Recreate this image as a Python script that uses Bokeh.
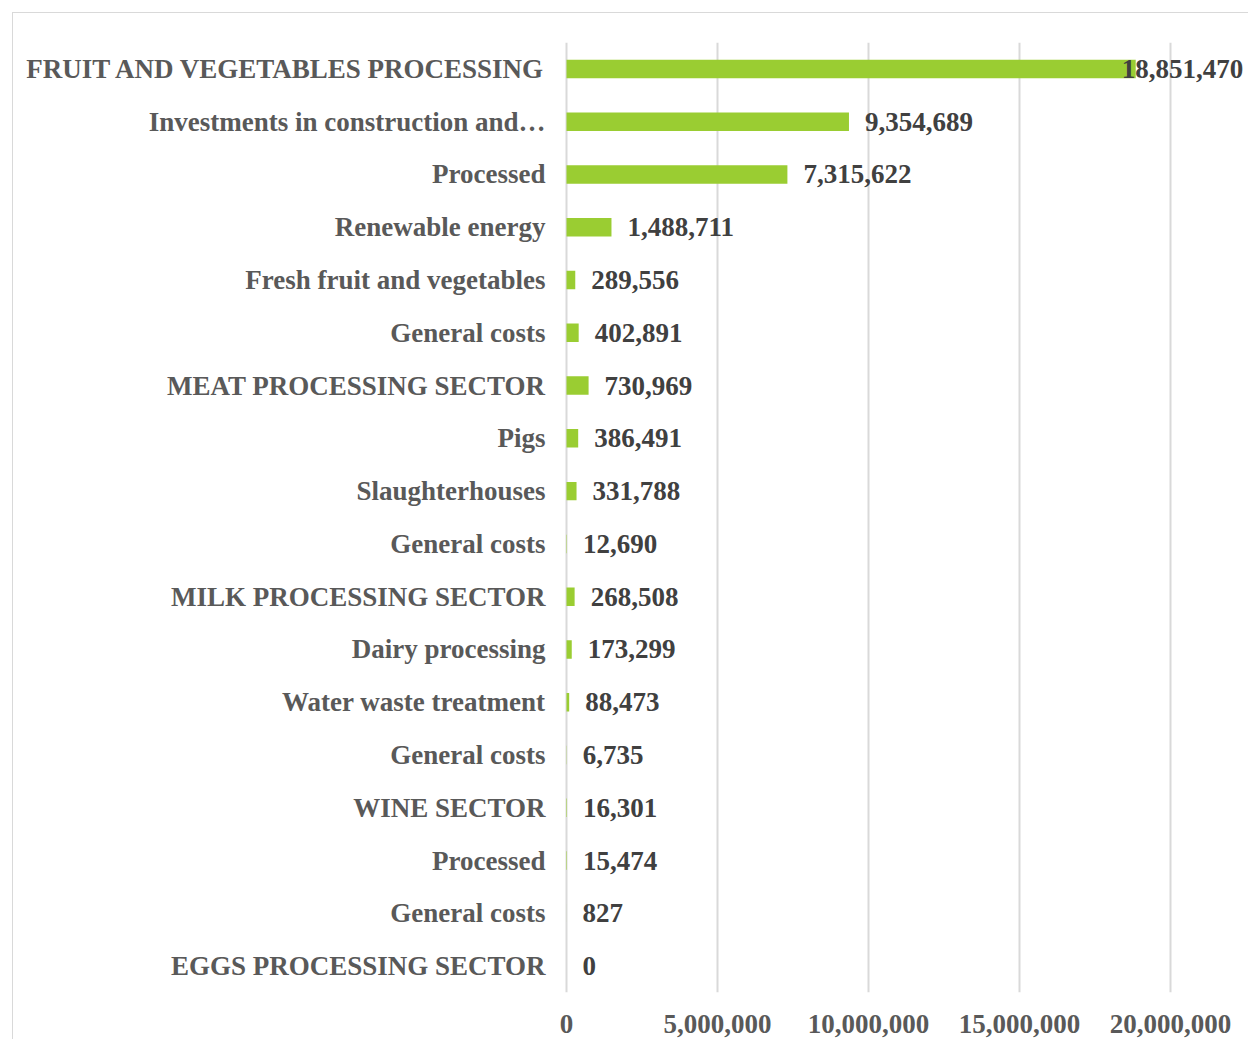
from bokeh.plotting import figure
from bokeh.models import ColumnDataSource, Range1d, FixedTicker, NumeralTickFormatter
from bokeh.core.properties import value
from bokeh.embed import file_html
from bokeh.resources import INLINE

categories = [
    "FRUIT AND VEGETABLES PROCESSING",
    "Investments in construction and\u2026",
    "Processed",
    "Renewable energy",
    "Fresh fruit and vegetables",
    "General costs",
    "MEAT PROCESSING SECTOR",
    "Pigs",
    "Slaughterhouses",
    "General costs",
    "MILK PROCESSING SECTOR",
    "Dairy processing",
    "Water waste treatment",
    "General costs",
    "WINE SECTOR",
    "Processed",
    "General costs",
    "EGGS PROCESSING SECTOR",
]
values = [18851470, 9354689, 7315622, 1488711, 289556, 402891, 730969, 386491,
          331788, 12690, 268508, 173299, 88473, 6735, 16301, 15474, 827, 0]
x_ticks = [0, 5000000, 10000000, 15000000, 20000000]

FONT = "Liberation Serif"
BAR = "#9ACD32"
LABEL = "#595959"
VALUE = "#404040"
GRID = "#d9d9d9"

n = len(categories)
ys = [n - i for i in range(n)]
x_min = -0.1e6
x_max = 22.62e6
offsets = [-14 if v > 0.8 * x_max else 16 for v in values]

src = ColumnDataSource(dict(
    y=ys, v=values, lab=[f"{v:,}" for v in values], off=offsets,
))

p = figure(width=1236, height=1027, output_backend="svg", toolbar_location=None,
           x_range=Range1d(x_min, x_max), y_range=Range1d(0.5, n + 0.5),
           min_border_left=550, min_border_top=29, min_border_bottom=48,
           min_border_right=0)
p.margin = (12, 0, 0, 12)
p.styles = {"border-top": f"1px solid {GRID}", "border-left": f"1px solid {GRID}"}
p.outline_line_color = None
p.background_fill_color = "white"
p.border_fill_color = "white"

p.hbar(y="y", left=0, right="v", height=0.35, source=src,
       fill_color=BAR, line_color=None)
p.text(x="v", y="y", text="lab", x_offset="off", source=src,
       text_font=value(FONT), text_font_style="bold", text_font_size="27px",
       text_color=VALUE, text_baseline="middle", text_align="left")

p.xaxis.ticker = FixedTicker(ticks=x_ticks)
p.xaxis.formatter = NumeralTickFormatter(format="0,0")
p.xaxis.axis_line_color = None
p.xaxis.major_tick_line_color = None
p.xaxis.minor_tick_line_color = None
p.xaxis.major_label_text_font = FONT
p.xaxis.major_label_text_font_style = "bold"
p.xaxis.major_label_text_font_size = "27px"
p.xaxis.major_label_text_color = LABEL
p.xaxis.major_label_standoff = 16

p.yaxis.ticker = FixedTicker(ticks=ys)
p.yaxis.major_label_overrides = {y: c for y, c in zip(ys, categories)}
p.yaxis.axis_line_color = None
p.yaxis.major_tick_line_color = None
p.yaxis.minor_tick_line_color = None
p.yaxis.major_label_text_font = FONT
p.yaxis.major_label_text_font_style = "bold"
p.yaxis.major_label_text_font_size = "27px"
p.yaxis.major_label_text_color = LABEL
p.yaxis.major_label_standoff = 12

p.xgrid.ticker = FixedTicker(ticks=x_ticks)
p.xgrid.grid_line_color = GRID
p.xgrid.grid_line_width = 2
p.ygrid.grid_line_color = None

open("out.html", "w").write(file_html(p, INLINE))
